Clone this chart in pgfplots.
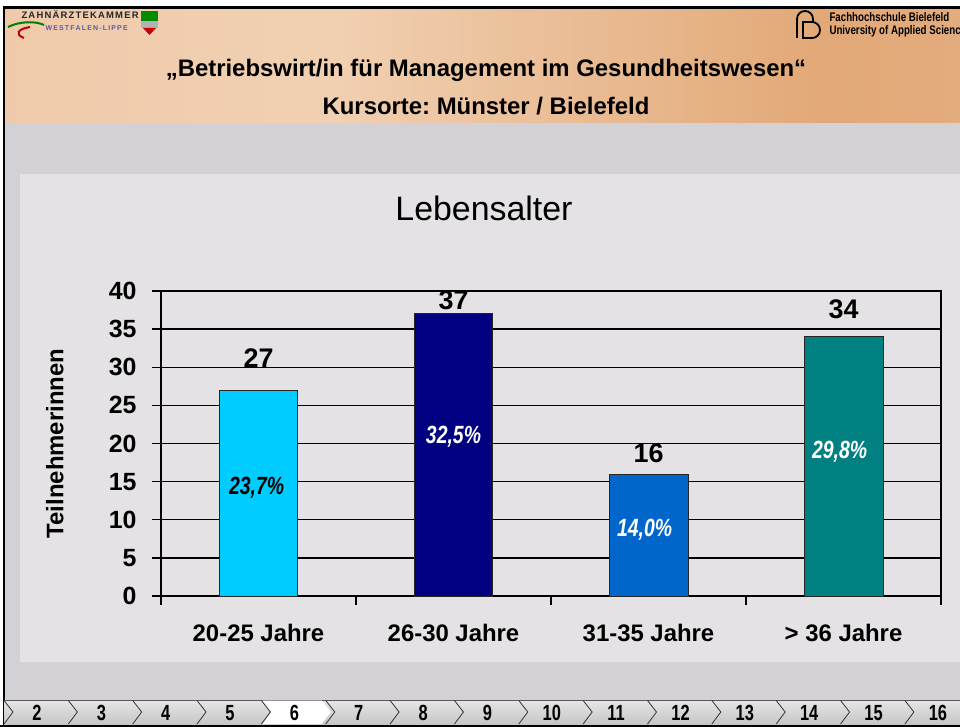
\documentclass[border=0pt]{standalone}
\usepackage{pgfplots}
\pgfplotsset{compat=1.18}
\usepackage{fontspec}
\setmainfont{Liberation Sans}
\newfontfamily\narrowfont[FakeStretch=0.78]{Liberation Sans}
\newfontfamily\navfont[FakeStretch=0.75]{Liberation Sans}
\frenchspacing
\definecolor{cA}{HTML}{00CCFF}
\definecolor{cB}{HTML}{000080}
\definecolor{cC}{HTML}{0066CC}
\definecolor{cD}{HTML}{008080}
\definecolor{slide}{HTML}{D3D1D5}
\definecolor{panel}{HTML}{E4E2E5}
\definecolor{h1}{HTML}{EBC29F}
\definecolor{h2}{HTML}{F1D0B2}
\definecolor{h3}{HTML}{E2A877}
\definecolor{h4}{HTML}{E9BA93}
\pgfdeclarehorizontalshading{hdr}{100bp}{color(0bp)=(h1); color(42bp)=(h2); color(68bp)=(h3); color(100bp)=(h4)}
\begin{document}
\begin{tikzpicture}[x=1bp,y=-1bp]
\useasboundingbox (0,0) rectangle (960,727);
\fill[white] (0,0) rectangle (960,727);
\fill[slide] (4,8) rectangle (960,726);
% header
\shade[shading=hdr] (4,8) rectangle (960,123);
% chart panel
\fill[panel] (20,174) rectangle (960,662);
% border
\draw[line width=2.5bp] (4,727) -- (4,7.5) -- (960,7.5);
\draw[line width=2.5bp] (0,725.8) -- (960,725.8);
% navigation bar
\shade[top color=gray!20, bottom color=gray!45] (4,700) rectangle (960,724.5);
\draw[gray!70!black, line width=0.8bp] (4,700) -- (960,700);
\foreach \n in {2,...,16} {
  \pgfmathsetmacro\L{37+(\n-2)*64.35-32}
  \ifnum\n=6
    \fill[white] (\L,700.5) -- (\L+59.35,700.5) -- (\L+68.35,712) -- (\L+59.35,724) -- (\L,724) -- (\L+9,712) -- cycle;
  \fi
  \draw[gray!40!black, line width=0.8bp] (\L-1,700.5) -- (\L+8,712) -- (\L-1,724);
  \node[font=\navfont\bfseries\fontsize{22}{22}\selectfont] at (37+\n*64.35-128.7,713) {\n};
}
% left logo
\node[anchor=west, font=\fontsize{9.5}{10}\selectfont\bfseries, text=black!85] at (18,14) {Z\kern1.2pt A\kern1.2pt H\kern1.2pt N\kern1.2pt Ä\kern1.2pt R\kern1.2pt Z\kern1.2pt T\kern1.2pt E\kern1.2pt K\kern1.2pt A\kern1.2pt M\kern1.2pt M\kern1.2pt E\kern1.2pt R};
\node[anchor=west, font=\fontsize{7}{7}\selectfont\bfseries, text=blue!30!gray] at (42,28) {W\,E\,S\,T\,F\,A\,L\,E\,N\,-\,L\,I\,P\,P\,E};
\draw[green!50!black, line width=2bp] (8,27) .. controls (20,21) and (36,21) .. (44,25);
\draw[red!75!black, line width=2bp] (30,27) .. controls (18,29) and (14,34) .. (24,38);
\fill[green!55!black] (141,11) rectangle (158,21);
\fill[gray!60] (141,21) rectangle (158,28);
\fill[red!80!black] (143,28) -- (156,28) -- (149.5,35) -- cycle;
% right logo
\draw[line width=1.8bp] (797,38) -- (797,19) arc[start angle=180, end angle=360, radius=8] -- (813,22);
\draw[line width=1.8bp] (803,22) -- (803,38) -- (812,38) arc[start angle=90, end angle=-90, radius=8] -- cycle;
\node[anchor=west, font=\narrowfont\bfseries\fontsize{12.5}{12.5}\selectfont] at (826,17) {Fachhochschule Bielefeld};
\node[anchor=west, font=\narrowfont\bfseries\fontsize{12.5}{12.5}\selectfont] at (826,31) {University of Applied Sciences};
% header texts
\node[font=\bfseries\fontsize{24}{24}\selectfont] at (486,70) {„Betriebswirt/in für Management im Gesundheitswesen“};
\node[font=\bfseries\fontsize{24}{24}\selectfont] at (486,106) {Kursorte: Münster / Bielefeld};
\begin{axis}[
  at={(161bp,-596bp)}, anchor=south west,
  scale only axis, width=780bp, height=305bp,
  xmin=-0.5, xmax=3.5, ymin=0, ymax=40,
  ytick={0,5,...,40},
  xtick={-0.5,0.5,1.5,2.5,3.5}, xticklabels={},
  extra x ticks={0,1,2,3},
  extra x tick labels={20-25 Jahre,26-30 Jahre,31-35 Jahre,{> 36 Jahre}},
  extra x tick style={major tick length=0pt, grid=none},
  tick align=outside, tick pos=left, major tick length=9bp,
  ymajorgrids, grid style={black, line width=1.3bp},
  axis line style={black, line width=1.3bp},
  every tick/.style={black, line width=1.3bp},
  /pgf/number format/assume math mode=true,
  yticklabel style={font=\bfseries\fontsize{25}{25}\selectfont, xshift=-12bp},
  xticklabel style={font=\bfseries\fontsize{24}{24}\selectfont, yshift=-25bp},
  title={Lebensalter},
  title style={font=\fontsize{34}{34}\selectfont, at={(axis description cs:0.414,1.25)}, anchor=center},
  ylabel={Teilnehmerinnen},
  ylabel style={font=\bfseries\fontsize{24}{24}\selectfont, at={(axis description cs:-0.136,0.5)}, anchor=center, rotate=0},
  clip=false,
]
\addplot[ybar, bar shift=0pt, bar width=0.405, fill=cA, draw=black!85, line width=1bp] coordinates {(0,27)};
\addplot[ybar, bar shift=0pt, bar width=0.405, fill=cB, draw=black!85, line width=1bp] coordinates {(1,37)};
\addplot[ybar, bar shift=0pt, bar width=0.405, fill=cC, draw=black!85, line width=1bp] coordinates {(2,16)};
\addplot[ybar, bar shift=0pt, bar width=0.405, fill=cD, draw=black!85, line width=1bp] coordinates {(3,34)};
% value labels
\addplot[draw=none, mark=none, point meta=explicit symbolic, nodes near coords, nodes near coords align={center},
  every node near coord/.append style={font=\bfseries\fontsize{27}{27}\selectfont, anchor=center, text=black}]
  table[x=x, y=y, meta=m] {
x y m
0 31.2 27
1 38.8 37
2 18.75 16
3 37.6 34
};
% percent labels
\addplot[draw=none, mark=none, point meta=explicit symbolic, nodes near coords={\pgfplotspointmeta\%}, nodes near coords align={center},
  every node near coord/.append style={font=\narrowfont\bfseries\itshape\fontsize{25}{25}\selectfont, anchor=center, text=black}]
  table[x=x, y=y, meta=m] {
x y m
-0.01 14.2 23,7
};
\addplot[draw=none, mark=none, point meta=explicit symbolic, nodes near coords={\pgfplotspointmeta\%}, nodes near coords align={center},
  every node near coord/.append style={font=\narrowfont\bfseries\itshape\fontsize{25}{25}\selectfont, anchor=center, text=white}]
  table[x=x, y=y, meta=m] {
x y m
1 20.9 32,5
1.98 8.7 14,0
2.98 18.9 29,8
};
\end{axis}
\end{tikzpicture}
\end{document}
